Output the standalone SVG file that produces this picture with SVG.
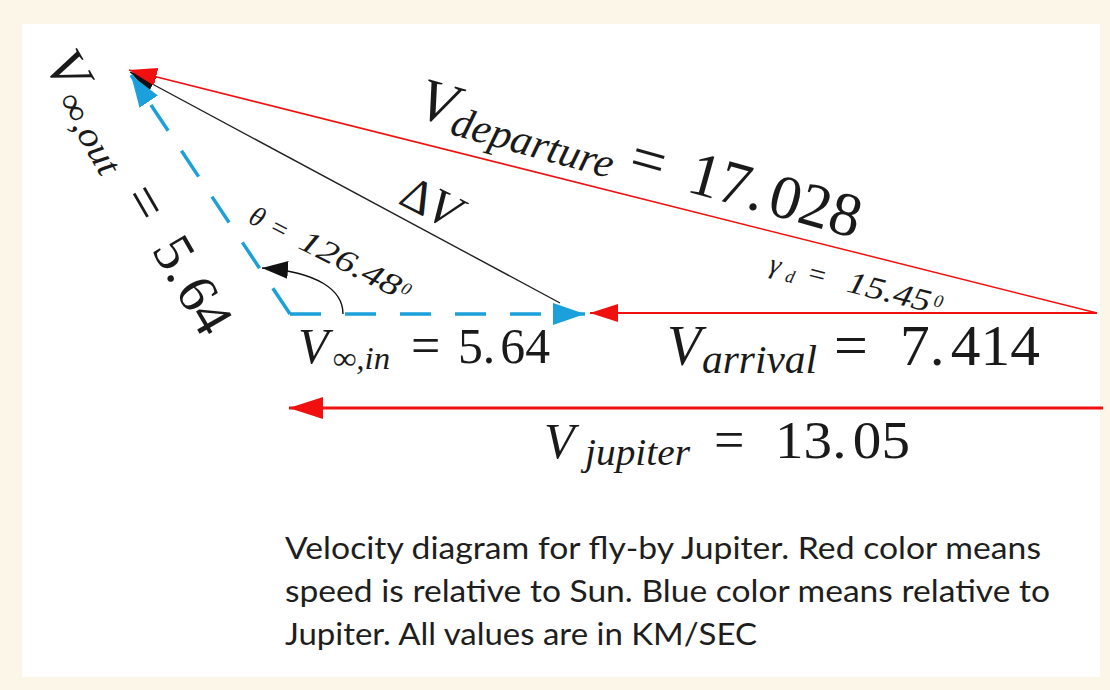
<svg xmlns="http://www.w3.org/2000/svg" width="1110" height="690" viewBox="0 0 1110 690">
<style>
.it{font-family:"Liberation Serif","Times New Roman",serif;font-style:italic;fill:#1a1a1a}
.rm{font-family:"Liberation Serif","Times New Roman",serif;fill:#1a1a1a}
.cap{font-family:Lato,"Liberation Sans",sans-serif;font-size:31px;fill:#1e1e1e}
.red{stroke:#f01010;fill:none}
.blue{stroke:#1ba0dc;stroke-width:3.5;fill:none;stroke-dasharray:31 24}
</style>
<defs>
<marker id="hRed" markerUnits="userSpaceOnUse" viewBox="0 0 28 18" refX="28" refY="9" markerWidth="28" markerHeight="18" orient="auto"><path d="M0,0 L28,9 L0,18 z" fill="#f01010"/></marker>
<marker id="hJup" markerUnits="userSpaceOnUse" viewBox="0 0 34 22" refX="34" refY="11" markerWidth="34" markerHeight="22" orient="auto"><path d="M0,0 L34,11 L0,22 z" fill="#f01010"/></marker>
<marker id="hBlue" markerUnits="userSpaceOnUse" viewBox="0 0 32 22" refX="32" refY="11" markerWidth="32" markerHeight="22" orient="auto"><path d="M0,0 L32,11 L0,22 z" fill="#1ba0dc"/></marker>
<marker id="hBlack" markerUnits="userSpaceOnUse" viewBox="0 0 26 18" refX="26" refY="9" markerWidth="26" markerHeight="18" orient="auto"><path d="M0,0 L26,9 L0,18 z" fill="#111"/></marker>
</defs>
<rect x="0" y="0" width="1110" height="690" fill="#fbf6e7"/>
<rect x="22" y="24" width="1078" height="653" fill="#ffffff"/>

<g id="connectors">
  <path id="deltaV" d="M560,303 L130,72" stroke="#222" stroke-width="1.4" fill="none" marker-end="url(#hBlack)"/>
  <path id="vinf-in" class="blue" d="M290,314 L585,314" marker-end="url(#hBlue)"/>
  <path id="vinf-out" class="blue" d="M290,314 L131,75" marker-end="url(#hBlue)"/>
  <path id="theta-arc" d="M343,314 C343,290 318,272 262,268" stroke="#111" stroke-width="1.4" fill="none" marker-end="url(#hBlack)"/>
  <path id="v-departure" class="red" stroke-width="1.5" d="M1097,313 L129,70" marker-end="url(#hRed)"/>
  <path id="v-arrival" class="red" stroke-width="1.8" d="M1097,313 L590,313" marker-end="url(#hRed)"/>
  <path id="v-jupiter" class="red" stroke-width="3.2" d="M1103,408 L289,408" marker-end="url(#hJup)"/>
</g>

<g id="label-departure" transform="translate(418,117) rotate(15.5)">
  <text class="it" x="-3" y="0" font-size="60">V</text>
  <text class="it" x="34" y="8" font-size="42" textLength="167" lengthAdjust="spacingAndGlyphs">departure</text>
  <text class="rm" x="216" y="0" font-size="62">=</text>
  <text class="rm" x="277" y="0" font-size="62">17.<tspan dx="6">028</tspan></text>
</g>

<g id="label-vout" transform="translate(45,66) rotate(60)">
  <text class="it" x="-3" y="0" font-size="56">V</text>
  <text class="it" x="36" y="7" font-size="36" textLength="89" lengthAdjust="spacingAndGlyphs">∞,out</text>
  <text class="rm" x="152" y="0" font-size="58">=</text>
  <text class="rm" x="212" y="0" font-size="56">5.<tspan dx="5">64</tspan></text>
</g>

<g id="label-deltaV" transform="translate(397,203) rotate(27)">
  <text class="rm" x="0" y="0" font-size="48">Δ</text>
  <text class="it" x="29" y="0" font-size="50">V</text>
</g>

<g id="label-theta" transform="translate(247,222) rotate(27)">
  <text class="it" x="0" y="0" font-size="28">θ</text>
  <text class="rm" x="24" y="0" font-size="28">=</text>
  <text class="it" x="56" y="0" font-size="31" textLength="110" lengthAdjust="spacingAndGlyphs">126.48</text>
  <text class="it" x="168" y="-7" font-size="18">0</text>
</g>

<g id="label-gamma" transform="translate(768,272) rotate(14)">
  <text class="it" x="0" y="0" font-size="28">γ</text>
  <text class="it" x="18" y="5" font-size="18">d</text>
  <text class="rm" x="40" y="0" font-size="30">=</text>
  <text class="it" x="80" y="0" font-size="31" textLength="85" lengthAdjust="spacingAndGlyphs">15.45</text>
  <text class="it" x="168" y="-7" font-size="18">0</text>
</g>

<g id="label-vin">
  <text class="it" x="298" y="363" font-size="50">V</text>
  <text class="it" x="333" y="369" font-size="32" textLength="57" lengthAdjust="spacingAndGlyphs">∞,in</text>
  <text class="rm" x="411" y="363" font-size="52">=</text>
  <text class="rm" x="458" y="363" font-size="50" textLength="92" lengthAdjust="spacingAndGlyphs">5.<tspan dx="5">64</tspan></text>
</g>

<g id="label-arrival">
  <text class="it" x="667" y="365" font-size="56">V</text>
  <text class="it" x="702" y="373" font-size="40" textLength="115" lengthAdjust="spacingAndGlyphs">arrival</text>
  <text class="rm" x="834" y="365" font-size="60">=</text>
  <text class="rm" x="900" y="365" font-size="57" textLength="140" lengthAdjust="spacingAndGlyphs">7.<tspan dx="6">414</tspan></text>
</g>

<g id="label-jupiter">
  <text class="it" x="544" y="458" font-size="50">V</text>
  <text class="it" x="585" y="465" font-size="38" textLength="105" lengthAdjust="spacingAndGlyphs">jupiter</text>
  <text class="rm" x="714" y="458" font-size="54">=</text>
  <text class="rm" x="775" y="458" font-size="53" textLength="135" lengthAdjust="spacingAndGlyphs">13.<tspan dx="6">05</tspan></text>
</g>

<g id="caption">
  <text class="cap" x="285" y="559" textLength="756" lengthAdjust="spacingAndGlyphs">Velocity diagram for fly-by Jupiter. Red color means</text>
  <text class="cap" x="285" y="602" textLength="765" lengthAdjust="spacingAndGlyphs">speed is relative to Sun. Blue color means relative to</text>
  <text class="cap" x="285" y="645" textLength="472" lengthAdjust="spacingAndGlyphs">Jupiter. All values are in KM/SEC</text>
</g>
</svg>
